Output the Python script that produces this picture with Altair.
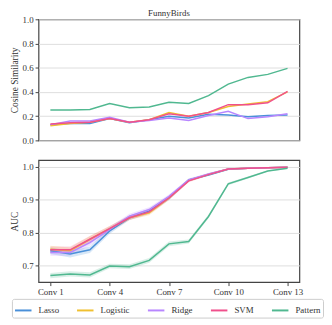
import altair as alt
import pandas as pd

conv = list(range(1, 14))
models = ["Lasso", "Logistic", "Ridge", "SVM", "Pattern"]
colors = ["#4a90d9", "#f0c030", "#b886ff", "#f0508c", "#50b890"]

lasso_cos = [0.13, 0.14, 0.14, 0.18, 0.145, 0.17, 0.20, 0.185, 0.215, 0.21, 0.195, 0.205, 0.21]
logistic_cos = [0.12, 0.14, 0.15, 0.18, 0.15, 0.17, 0.23, 0.20, 0.23, 0.28, 0.30, 0.32, 0.40]
ridge_cos = [0.13, 0.16, 0.16, 0.19, 0.15, 0.165, 0.185, 0.165, 0.205, 0.24, 0.18, 0.195, 0.22]
svm_cos = [0.135, 0.145, 0.15, 0.18, 0.15, 0.17, 0.22, 0.20, 0.23, 0.295, 0.295, 0.31, 0.405]
pattern_cos = [0.25, 0.25, 0.255, 0.305, 0.27, 0.275, 0.315, 0.305, 0.37, 0.465, 0.52, 0.545, 0.595]

lasso_auc = [0.745, 0.735, 0.748, 0.805, 0.845, 0.865, 0.905, 0.960, 0.975, 0.992, 0.995, 0.997, 0.998]
logistic_auc = [0.750, 0.745, 0.780, 0.812, 0.845, 0.860, 0.905, 0.958, 0.977, 0.993, 0.995, 0.997, 0.998]
ridge_auc = [0.740, 0.740, 0.770, 0.810, 0.850, 0.870, 0.910, 0.960, 0.978, 0.993, 0.995, 0.997, 0.998]
svm_auc = [0.748, 0.748, 0.780, 0.812, 0.845, 0.863, 0.905, 0.957, 0.976, 0.993, 0.995, 0.997, 0.998]
pattern_auc = [0.670, 0.675, 0.672, 0.699, 0.697, 0.716, 0.766, 0.773, 0.849, 0.948, 0.967, 0.987, 0.995]

linear_err = [0.010, 0.010, 0.010, 0.008, 0.007, 0.007, 0.006, 0.004, 0.003, 0.002, 0.002, 0.001, 0.001]
pattern_err = [0.008, 0.008, 0.008, 0.007, 0.007, 0.007, 0.007, 0.006, 0.005, 0.004, 0.003, 0.002, 0.002]

cos_all = [lasso_cos, logistic_cos, ridge_cos, svm_cos, pattern_cos]
auc_all = [lasso_auc, logistic_auc, ridge_auc, svm_auc, pattern_auc]
err_all = [linear_err, linear_err, linear_err, linear_err, pattern_err]

rows = []
for k, (m, cs, aus, es) in enumerate(zip(models, cos_all, auc_all, err_all)):
    for c, v, a, e in zip(conv, cs, aus, es):
        rows.append(dict(model=m, order=k, conv=c, cos=v, auc=a, lo=a - e, hi=a + e))
df = pd.DataFrame(rows)

FONT = "Liberation Serif"

color = alt.Color(
    "model:N",
    scale=alt.Scale(domain=models, range=colors),
    legend=alt.Legend(
        title=None, orient="none", direction="horizontal", columns=5,
        legendX=-27, legendY=284,
        symbolType="stroke", symbolSize=280, symbolStrokeWidth=2,
        labelFont=FONT, labelFontSize=9, labelColor="#333",
        labelOffset=6, columnPadding=14, labelLimit=60,
        strokeColor="#cccccc", cornerRadius=2, padding=2, fillColor="white",
    ),
)
xscale = alt.Scale(domain=[0.4, 13.6], nice=False, zero=False)

top = alt.Chart(df).mark_line(strokeWidth=1.5).encode(
    x=alt.X("conv:Q", scale=xscale,
            axis=alt.Axis(title=None, labels=False, ticks=False, grid=False, domain=False)),
    y=alt.Y("cos:Q", scale=alt.Scale(domain=[0, 1], nice=False),
            axis=alt.Axis(title="Cosine Similarity", values=[0, 0.2, 0.4, 0.6, 0.8, 1.0], format=".1f")),
    color=color,
    order=alt.Order("order:Q"),
).properties(width=265, height=123,
             title=alt.TitleParams("FunnyBirds", font=FONT, fontSize=9, fontWeight="normal",
                                   color="#333", offset=0, dy=3))

band = alt.Chart(df).mark_area(opacity=0.22).encode(
    x=alt.X("conv:Q", scale=xscale),
    y=alt.Y("lo:Q", scale=alt.Scale(domain=[0.65, 1.02], nice=False, zero=False)),
    y2="hi:Q",
    color=alt.Color("model:N", scale=alt.Scale(domain=models, range=colors), legend=None),
)
line = alt.Chart(df).mark_line(strokeWidth=1.5).encode(
    x=alt.X("conv:Q", scale=xscale,
            axis=alt.Axis(title=None, values=[1, 4, 7, 10, 13], grid=False, domain=False,
                          labelExpr="'Conv ' + datum.value")),
    y=alt.Y("auc:Q", scale=alt.Scale(domain=[0.65, 1.02], nice=False, zero=False),
            axis=alt.Axis(title="AUC", values=[0.7, 0.8, 0.9, 1.0], format=".1f")),
    color=color,
    order=alt.Order("order:Q"),
)
bottom = alt.layer(band, line).properties(width=265, height=124)

chart = alt.vconcat(top, bottom, spacing=13).properties(
    padding={"left": 0, "top": -2, "right": 0, "bottom": 0}
).configure_axis(
    labelFont=FONT, titleFont=FONT, labelFontSize=9, titleFontSize=9.5,
    labelColor="#333", titleColor="#333", titleFontWeight="normal",
    gridColor="#dddddd", gridWidth=1, tickColor="#444", tickSize=3.5, tickWidth=1,
    labelPadding=2, titlePadding=3, domain=False,
).configure_view(stroke="#444", strokeWidth=1.2)

chart.save("out.html", embed_options={"renderer": "svg", "actions": False})
